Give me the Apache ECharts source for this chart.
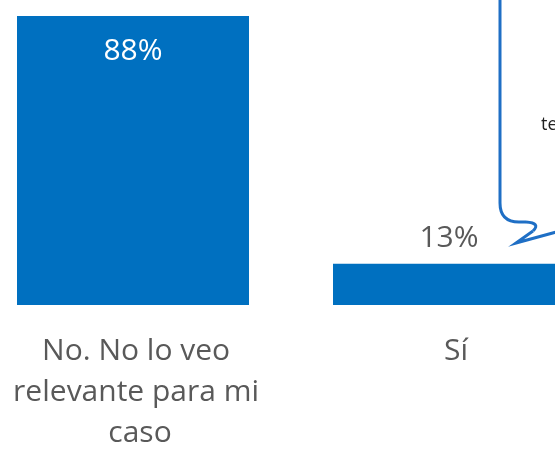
<!DOCTYPE html>
<html>
<head>
<meta charset="utf-8">
<script src="https://cdn.jsdelivr.net/npm/echarts@6/dist/echarts.min.js"></script>
<style>
  html, body { margin: 0; padding: 0; background: #fff; overflow: hidden; }
  #wrap { width: 555px; height: 450px; overflow: hidden; position: relative; }
  /* the plot is wider than the window: it is cropped on both sides */
  #chart { position: absolute; left: -25px; top: 0; width: 632px; height: 450px; }
</style>
</head>
<body>
<div id="wrap"><div id="chart"></div></div>
<script>
// --- data ---
const categories = ['No. No lo veo relevante para mi caso', 'Sí'];
const values = [87.5, 12.5];

const BAR_COLOR = '#0070C0';
const TEXT_GRAY = '#595959';
const FONT = '"Open Sans", sans-serif';
const BUBBLE = { stroke: '#1F6FC5', lineWidth: 3, fill: 'none' };
const DX = 25; // chart canvas is shifted left by this much

const chart = echarts.init(document.getElementById('chart'));

// first label sits inside the bar in white, the second above it in gray
const seriesData = values.map((v, i) => ({
  value: v,
  label: i === 0
    ? { position: 'insideTop', distance: 20, color: '#fff' }
    : { position: 'top', distance: 10, color: TEXT_GRAY }
}));

const option = {
  backgroundColor: '#fff',
  animation: false,
  grid: {
    left: 0,
    right: 0,
    top: 16,
    bottom: 145,
    containLabel: false,
    outerBoundsMode: 'none'
  },
  xAxis: {
    type: 'category',
    data: categories,
    axisLine: { show: false },
    axisTick: { show: false },
    axisLabel: {
      interval: 0,
      margin: 26,
      color: TEXT_GRAY,
      fontFamily: FONT,
      fontSize: 30,
      lineHeight: 41,
      width: 262,
      overflow: 'break',
      align: 'center',
      padding: [0, 0, 0, 14]
    }
  },
  yAxis: {
    type: 'value',
    min: 0,
    max: 87.5,
    show: false
  },
  series: [{
    type: 'bar',
    data: seriesData,
    barWidth: 232,
    itemStyle: { color: BAR_COLOR },
    label: {
      show: true,
      formatter: p => Math.round(p.value) + '%',
      fontFamily: FONT,
      fontSize: 30
    }
  }],
  // speech bubble, cut off at the right edge
  graphic: [
    { type: 'line', shape: { x1: 500 + DX, y1: -5, x2: 500 + DX, y2: 203 }, style: BUBBLE, z: 10 },
    { type: 'bezierCurve', shape: { x1: 500 + DX, y1: 203, cpx1: 500 + DX, cpy1: 222, x2: 519 + DX, y2: 222 }, style: BUBBLE, z: 10 },
    { type: 'line', shape: { x1: 519 + DX, y1: 222, x2: 526 + DX, y2: 222 }, style: BUBBLE, z: 10 },
    { type: 'bezierCurve', shape: { x1: 526 + DX, y1: 222, cpx1: 541 + DX, cpy1: 223, x2: 533 + DX, y2: 231 }, style: BUBBLE, z: 10 },
    { type: 'polyline', shape: { points: [[533 + DX, 231], [516 + DX, 243], [560 + DX, 231]] }, style: BUBBLE, z: 10 },
    {
      type: 'text',
      left: 541 + DX,
      top: 116,
      style: { text: 'te', fill: '#222', font: '18px "Open Sans", sans-serif' },
      z: 10
    }
  ]
};

chart.setOption(option);
</script>
</body>
</html>
